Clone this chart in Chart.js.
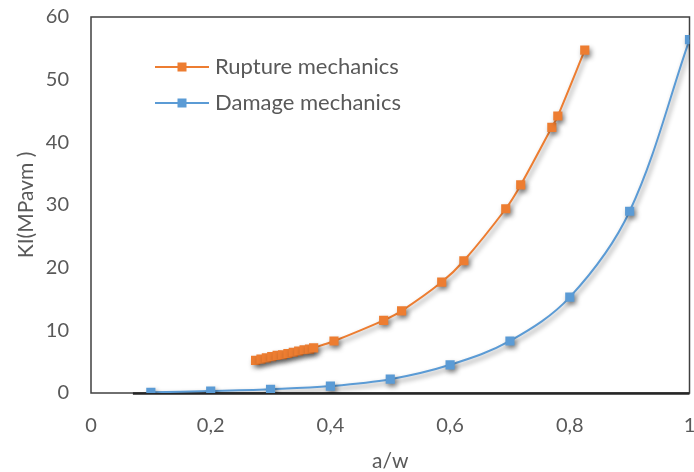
<!DOCTYPE html>
<html>
<head>
<meta charset="utf-8">
<script src="https://cdn.jsdelivr.net/npm/chart.js@4.4.1/dist/chart.umd.min.js"></script>
<style>
    html, body { margin: 0; padding: 0; background: #fff; overflow: hidden; }
    #wrap { width: 694px; height: 472px; overflow: hidden; }
</style>
</head>
<body>
<div id="wrap"><canvas id="kiChart" width="696" height="472"></canvas></div>
<script>
// values
const ruptureA  = [0.275, 0.284, 0.293, 0.302, 0.311, 0.320, 0.329, 0.338, 0.347, 0.356, 0.365, 0.372, 0.406, 0.489, 0.519, 0.586, 0.623, 0.693, 0.718, 0.770, 0.780, 0.825];
const ruptureKI = [5.2, 5.4, 5.6, 5.8, 6.0, 6.1, 6.3, 6.5, 6.7, 6.9, 7.0, 7.2, 8.3, 11.6, 13.1, 17.7, 21.1, 29.4, 33.2, 42.4, 44.2, 54.7];
const damageA   = [0.1, 0.2, 0.3, 0.4, 0.5, 0.6, 0.7, 0.8, 0.9, 1.0];
const damageKI  = [0.1, 0.3, 0.6, 1.1, 2.2, 4.5, 8.3, 15.3, 29.0, 56.4];
const xTicks = [0, 0.2, 0.4, 0.6, 0.8, 1];
const yTicks = [0, 10, 20, 30, 40, 50, 60];
const seriesNames = ['Rupture mechanics', 'Damage mechanics'];

const ORANGE = '#ED7D31';
const BLUE = '#5B9BD5';
const TEXT = '#595959';
const FONT = 'Lato, "Open Sans", sans-serif';

const toPoints = (xs, ys) => xs.map((x, i) => ({ x: x, y: ys[i] }));
const comma = v => String(Math.round(v * 10) / 10).replace('.', ',');

// soft drop shadow like the office chart markers
const shadowPlugin = {
    id: 'shadow',
    beforeDatasetsDraw(chart) {
        const ctx = chart.ctx;
        ctx.save();
        ctx.shadowColor = 'rgba(0,0,0,0.45)';
        ctx.shadowBlur = 5;
        ctx.shadowOffsetX = 2;
        ctx.shadowOffsetY = 3;
    },
    afterDatasetsDraw(chart) {
        chart.ctx.restore();
    }
};

// plot frame
const framePlugin = {
    id: 'frame',
    beforeDatasetsDraw(chart, args, opts) {
        const { ctx, chartArea: a, scales } = chart;
        ctx.save();
        ctx.strokeStyle = '#404040';
        ctx.lineWidth = 1.5;
        ctx.strokeRect(a.left, a.top, a.right - a.left, a.bottom - a.top);
        // darker axis line along y = 0
        const y0 = scales.y.getPixelForValue(0);
        ctx.lineWidth = 2.5;
        ctx.strokeStyle = '#262626';
        ctx.beginPath();
        ctx.moveTo(scales.x.getPixelForValue(opts.axisStart), y0 + 0.5);
        ctx.lineTo(a.right, y0 + 0.5);
        ctx.stroke();
        ctx.restore();
    }
};

// legend drawn inside the plot area
const insideLegend = {
    id: 'insideLegend',
    afterDatasetsDraw(chart, args, opts) {
        const ctx = chart.ctx;
        ctx.save();
        ctx.font = opts.fontSize + 'px ' + FONT;
        ctx.textBaseline = 'middle';
        ctx.textAlign = 'left';
        chart.data.datasets.forEach((ds, i) => {
            const y = opts.top + i * opts.rowGap;
            ctx.strokeStyle = ds.borderColor;
            ctx.lineWidth = 2;
            ctx.beginPath();
            ctx.moveTo(opts.left, y);
            ctx.lineTo(opts.left + opts.lineLen, y);
            ctx.stroke();
            ctx.fillStyle = ds.backgroundColor;
            const m = opts.marker;
            ctx.fillRect(opts.left + opts.lineLen / 2 - m / 2, y - m / 2, m, m);
            ctx.fillStyle = TEXT;
            ctx.fillText(ds.label, opts.left + opts.lineLen + 6, y);
        });
        ctx.restore();
    }
};

new Chart(document.getElementById('kiChart'), {
    type: 'line',
    data: {
        datasets: [
            {
                label: seriesNames[0],
                data: toPoints(ruptureA, ruptureKI),
                borderColor: ORANGE,
                backgroundColor: ORANGE,
                borderWidth: 2,
                pointStyle: 'rect',
                pointRadius: 6.5,
                pointBorderWidth: 0,
                tension: 0.3
            },
            {
                label: seriesNames[1],
                data: toPoints(damageA, damageKI),
                borderColor: BLUE,
                backgroundColor: BLUE,
                borderWidth: 2,
                pointStyle: 'rect',
                pointRadius: 6.5,
                pointBorderWidth: 0,
                tension: 0.35
            }
        ]
    },
    options: {
        responsive: false,
        animation: false,
        layout: { padding: { top: 17, right: 0, bottom: 0, left: 0 } },
        plugins: {
            legend: { display: false },
            tooltip: { enabled: false },
            frame: { axisStart: 0.07 },
            insideLegend: { left: 155, top: 67, rowGap: 36, lineLen: 54, marker: 9, fontSize: 22 }
        },
        scales: {
            x: {
                type: 'linear',
                min: 0,
                max: 1,
                grid: { display: false, drawTicks: false },
                border: { display: false },
                afterBuildTicks: s => { s.ticks = xTicks.map(v => ({ value: v })); },
                afterFit: s => { s.height = 79; s.paddingLeft = 0; s.paddingRight = 0; },
                ticks: {
                    color: TEXT,
                    padding: 21,
                    maxRotation: 0,
                    autoSkip: false,
                    font: { family: FONT, size: 20 },
                    callback: v => comma(v)
                },
                title: {
                    display: true,
                    text: 'a/w',
                    color: TEXT,
                    padding: { top: 0, bottom: 0 },
                    font: { family: FONT, size: 21, lineHeight: 1 }
                }
            },
            y: {
                min: 0,
                max: 60,
                grid: { display: false, drawTicks: false },
                border: { display: false },
                afterBuildTicks: s => { s.ticks = yTicks.map(v => ({ value: v })); },
                afterFit: s => { s.width = 91; s.paddingTop = 0; s.paddingBottom = 0; },
                ticks: {
                    color: TEXT,
                    padding: 22,
                    autoSkip: false,
                    font: { family: FONT, size: 20 },
                    callback: v => String(v)
                },
                title: {
                    display: true,
                    text: 'KI(MPavm )',
                    color: TEXT,
                    padding: { top: 16, bottom: 0 },
                    font: { family: FONT, size: 21, lineHeight: 1 }
                }
            }
        }
    },
    plugins: [framePlugin, shadowPlugin, insideLegend]
});
</script>
</body>
</html>
